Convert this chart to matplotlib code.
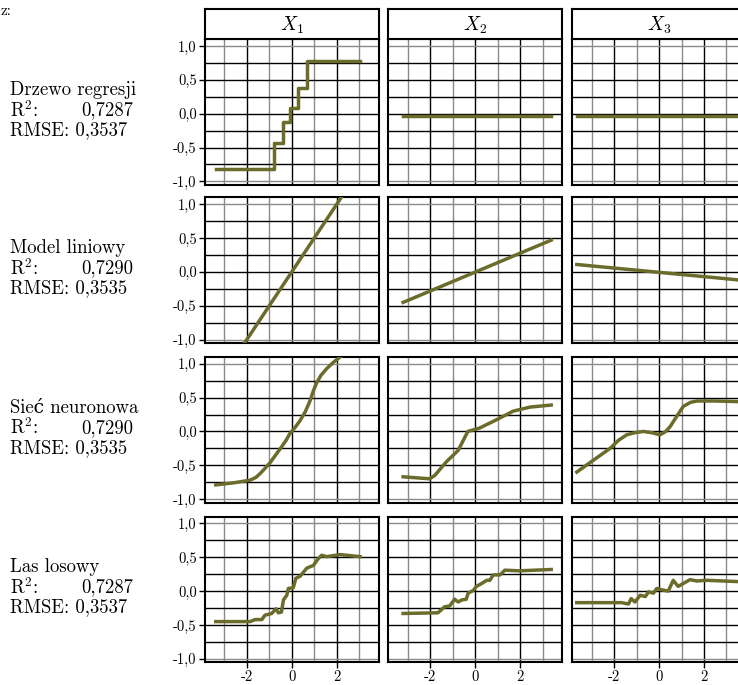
import matplotlib
matplotlib.use("Agg")
import matplotlib.pyplot as plt

plt.rcParams['font.family'] = ['cmr10', 'DejaVu Serif']
plt.rcParams['mathtext.fontset'] = 'cm'
plt.rcParams['axes.unicode_minus'] = False

# row labels and fit statistics
models = ["Drzewo regresji", "Model liniowy", "Sieć neuronowa", "Las losowy"]
r2_values = ["0,7287", "0,7290", "0,7290", "0,7287"]
rmse_values = ["0,3537", "0,3535", "0,3535", "0,3537"]
variables = ["$X_1$", "$X_2$", "$X_3$"]

x_ticks = [-2, 0, 2]
x_tick_labels = ["-2", "0", "2"]
y_ticks = [-1.0, -0.5, 0.0, 0.5, 1.0]
y_tick_labels = ["-1,0", "-0,5", "0,0", "0,5", "1,0"]

# regression tree (step function)
tree_x1_x = [-3.38, -0.79, -0.37, -0.08, 0.30, 0.69, 3.04]
tree_x1_y = [-0.82, -0.43, -0.12, 0.08, 0.38, 0.78, 0.78]
tree_x2_x = [-3.21, 3.38]
tree_x2_y = [-0.03, -0.03]
tree_x3_x = [-3.66, 3.60]
tree_x3_y = [-0.03, -0.03]

# linear model
lin_x1_x = [-3.38, 3.04]
lin_x1_y = [-1.69, 1.52]
lin_x2_x = [-3.21, 3.38]
lin_x2_y = [-0.45, 0.47]
lin_x3_x = [-3.66, 3.60]
lin_x3_y = [0.11, -0.12]

# neural network
nn_x1_x = [-3.38, -2.6, -1.85, -1.6, -1.4, -1.2, -0.96, -0.7, -0.5, -0.25, -0.08,
           0.15, 0.37, 0.6, 0.81, 0.95, 1.11, 1.3, 1.56, 1.85, 2.22, 3.04]
nn_x1_y = [-0.79, -0.76, -0.72, -0.68, -0.62, -0.55, -0.46, -0.34, -0.25, -0.13,
           -0.03, 0.06, 0.16, 0.29, 0.45, 0.59, 0.72, 0.83, 0.93, 1.02, 1.12, 1.30]
nn_x2_x = [-3.21, -2.03, -1.80, -1.29, -0.76, -0.33, 0.19, 0.93, 1.69, 2.44, 3.38]
nn_x2_y = [-0.67, -0.70, -0.65, -0.45, -0.28, 0.00, 0.05, 0.17, 0.30, 0.36, 0.39]
nn_x3_x = [-3.66, -2.9, -2.18, -1.8, -1.44, -1.1, -0.70, -0.3, 0.04, 0.3, 0.49,
           0.8, 1.08, 1.4, 1.68, 2.5, 3.6]
nn_x3_y = [-0.60, -0.42, -0.25, -0.13, -0.05, -0.02, 0.00, -0.02, -0.05, 0.00,
           0.07, 0.23, 0.37, 0.43, 0.45, 0.45, 0.44]

# random forest
rf_x1_x = [-3.38, -1.85, -1.63, -1.33, -1.19, -0.89, -0.70, -0.60, -0.46, -0.37,
           -0.22, -0.15, 0.07, 0.18, 0.37, 0.67, 0.96, 1.18, 1.33, 1.56, 2.15, 3.04]
rf_x1_y = [-0.45, -0.45, -0.42, -0.42, -0.355, -0.33, -0.26, -0.32, -0.31, -0.13,
           -0.06, 0.04, 0.05, 0.19, 0.22, 0.34, 0.38, 0.48, 0.53, 0.51, 0.54, 0.51]
rf_x2_x = [-3.21, -1.66, -1.36, -1.14, -0.92, -0.76, -0.60, -0.40, -0.32, -0.09,
           0.05, 0.27, 0.51, 0.65, 0.80, 1.10, 1.32, 1.97, 3.38]
rf_x2_y = [-0.33, -0.32, -0.23, -0.22, -0.12, -0.16, -0.13, -0.12, -0.03, 0.01,
           0.07, 0.11, 0.16, 0.16, 0.24, 0.24, 0.31, 0.30, 0.32]
rf_x3_x = [-3.66, -1.96, -1.67, -1.36, -1.24, -1.07, -0.84, -0.61, -0.47, -0.25,
           -0.10, 0.12, 0.41, 0.63, 0.85, 1.38, 1.68, 2.11, 3.60]
rf_x3_y = [-0.17, -0.17, -0.17, -0.19, -0.11, -0.16, -0.06, -0.08, -0.01, -0.03,
           0.04, 0.02, 0.00, 0.16, 0.07, 0.17, 0.15, 0.16, 0.14]

curves = [
    [(tree_x1_x, tree_x1_y), (tree_x2_x, tree_x2_y), (tree_x3_x, tree_x3_y)],
    [(lin_x1_x, lin_x1_y), (lin_x2_x, lin_x2_y), (lin_x3_x, lin_x3_y)],
    [(nn_x1_x, nn_x1_y), (nn_x2_x, nn_x2_y), (nn_x3_x, nn_x3_y)],
    [(rf_x1_x, rf_x1_y), (rf_x2_x, rf_x2_y), (rf_x3_x, rf_x3_y)],
]

W, H = 738, 685
LINE = "#6b6b2b"

fig = plt.figure(figsize=(W / 100, H / 100), dpi=100)

col_left = [205, 388.5, 572.3]
col_w = 173.5
row_top = [39.3, 197.5, 357, 516.7]
row_h = 145.5


def fx(px):
    return px / W


def fy(py):
    return 1 - py / H


for r in range(4):
    for c in range(3):
        ax = fig.add_axes([fx(col_left[c]), fy(row_top[r] + row_h),
                           col_w / W, row_h / H])
        ax.set_xlim(-3.86, 3.86)
        ax.set_ylim(-1.05, 1.10)

        # grid
        for gx in [-3, -2, -1, 0, 1, 2, 3]:
            col = "#8a8a8a" if gx % 2 else "black"
            ax.axvline(gx, color=col, lw=1.0, zorder=1)
        for gy in [-1, -0.75, -0.5, -0.25, 0, 0.25, 0.5, 0.75, 1]:
            col = "#8a8a8a" if abs(gy) == 1 else "black"
            ax.axhline(gy, color=col, lw=1.0, zorder=1)

        x, y = curves[r][c]
        ds = "steps-post" if r == 0 else "default"
        ax.plot(x, y, color=LINE, lw=2.5, drawstyle=ds, zorder=3)

        for s in ax.spines.values():
            s.set_linewidth(1.5)

        ax.set_xticks(x_ticks)
        ax.set_yticks(y_ticks)
        if r == 3:
            ax.set_xticklabels(x_tick_labels, fontsize=10.5)
        else:
            ax.tick_params(axis="x", bottom=False, labelbottom=False)
        if c == 0:
            ax.set_yticklabels(y_tick_labels, fontsize=10.5)
        else:
            ax.tick_params(axis="y", left=False, labelleft=False)
        ax.tick_params(length=4, width=1, pad=2)

        # strip on top row
        if r == 0:
            sax = fig.add_axes([fx(col_left[c]), fy(39.3), col_w / W, 30 / H])
            sax.set_xticks([])
            sax.set_yticks([])
            for s in sax.spines.values():
                s.set_linewidth(1.5)
            sax.text(0.5, 0.45, variables[c], fontsize=14,
                     ha="center", va="center", transform=sax.transAxes)

    # model label on the left
    cy = row_top[r] + row_h / 2 - 2
    fig.text(fx(10), fy(cy - 20), models[r], fontsize=13.5, va="center", ha="left")
    fig.text(fx(10), fy(cy), "R$^2$:", fontsize=13.5, va="center", ha="left")
    fig.text(fx(133), fy(cy), r2_values[r], fontsize=13.5, va="center", ha="right")
    fig.text(fx(10), fy(cy + 20), "RMSE: " + rmse_values[r], fontsize=13.5,
             va="center", ha="left")

# small label in the top-left corner
fig.text(fx(1), fy(11), "z:", fontsize=11, va="center", ha="left")

fig.savefig("out.png", dpi=100)
